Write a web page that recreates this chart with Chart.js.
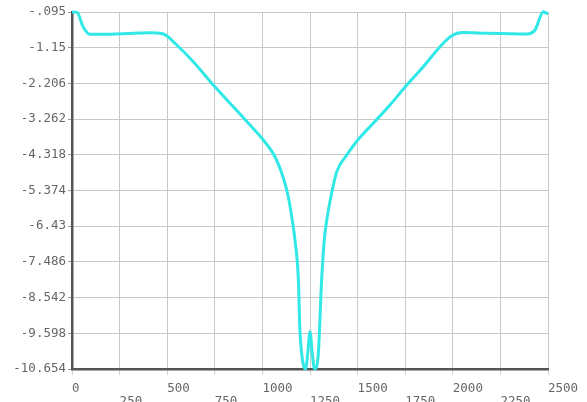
<!DOCTYPE html>
<html>
<head>
<meta charset="utf-8">
<script src="https://cdn.jsdelivr.net/npm/chart.js@4/dist/chart.umd.min.js"></script>
<style>
  html, body { margin: 0; padding: 0; background: #fff; }
  #wrap { width: 587px; height: 402px; }
</style>
</head>
<body>
<div id="wrap"><canvas id="chart" width="587" height="402"></canvas></div>
<script>
// Data
const xValues = [0, 26, 58, 95, 147, 320, 410, 480, 550, 637, 747, 847, 935, 1005, 1066, 1110, 1136, 1154, 1171, 1189, 1197, 1206, 1218, 1227, 1238, 1250, 1262, 1274, 1284, 1294, 1311, 1325, 1338, 1360, 1390, 1443, 1501, 1582, 1670, 1754, 1845, 1933, 1994, 2055, 2178, 2388, 2432, 2475, 2500];
const yValues = [-0.095, -0.1, -0.53, -0.755, -0.755, -0.725, -0.707, -0.746, -1.071, -1.565, -2.284, -2.896, -3.437, -3.881, -4.375, -5.005, -5.558, -6.149, -6.838, -8.022, -9.5, -10.181, -10.6, -10.654, -10.2, -9.55, -10.2, -10.654, -10.6, -10.181, -8.022, -6.838, -6.247, -5.558, -4.827, -4.325, -3.881, -3.387, -2.846, -2.284, -1.713, -1.121, -0.796, -0.701, -0.725, -0.746, -0.627, -0.086, -0.154];

const yTickValues = [-0.095, -1.15, -2.206, -3.262, -4.318, -5.374, -6.43, -7.486, -8.542, -9.598, -10.654];
const yTickLabels = ['-.095', '-1.15', '-2.206', '-3.262', '-4.318', '-5.374', '-6.43', '-7.486', '-8.542', '-9.598', '-10.654'];
const xTickValues = [0, 250, 500, 750, 1000, 1250, 1500, 1750, 2000, 2250, 2500];

const tickFont = { family: '"DejaVu Sans Mono", monospace', size: 12.5, lineHeight: 1.05 };

const points = xValues.map((x, i) => ({ x: x, y: yValues[i] }));

const ctx = document.getElementById('chart').getContext('2d');
const myChart = new Chart(ctx, {
    type: 'line',
    data: {
        datasets: [{
            data: points,
            borderColor: '#30e8e6',
            borderWidth: 3,
            pointRadius: 0,
            fill: false,
            cubicInterpolationMode: 'monotone',
            clip: false
        }]
    },
    options: {
        responsive: false,
        animation: false,
        layout: { padding: { top: 12, right: 39, left: 0, bottom: 0 } },
        plugins: {
            legend: { display: false },
            tooltip: { enabled: false }
        },
        scales: {
            x: {
                type: 'linear',
                min: 0,
                max: 2500,
                afterBuildTicks: (scale) => {
                    scale.ticks = xTickValues.map(v => ({ value: v }));
                },
                afterFit: (scale) => { scale.height = 33; },
                grid: { color: '#c8c8c8', lineWidth: 1, tickLength: 6, tickColor: '#d0d0d0' },
                border: { color: '#555', width: 2.5 },
                ticks: {
                    color: '#666',
                    font: tickFont,
                    align: 'start',
                    padding: 7,
                    maxRotation: 0,
                    autoSkip: false,
                    // every other label drops to a second row
                    callback: (value, index) => index % 2 === 1 ? ['', String(value)] : String(value)
                }
            },
            y: {
                type: 'linear',
                min: -10.654,
                max: -0.095,
                afterBuildTicks: (scale) => {
                    scale.ticks = yTickValues.map(v => ({ value: v }));
                },
                afterFit: (scale) => { scale.width = 72; },
                grid: { color: '#c8c8c8', lineWidth: 1, tickLength: 4, tickColor: '#999' },
                border: { color: '#555', width: 2.5 },
                ticks: {
                    color: '#666',
                    font: tickFont,
                    padding: 2,
                    autoSkip: false,
                    callback: (value, index) => yTickLabels[index]
                }
            }
        }
    }
});
</script>
</body>
</html>
